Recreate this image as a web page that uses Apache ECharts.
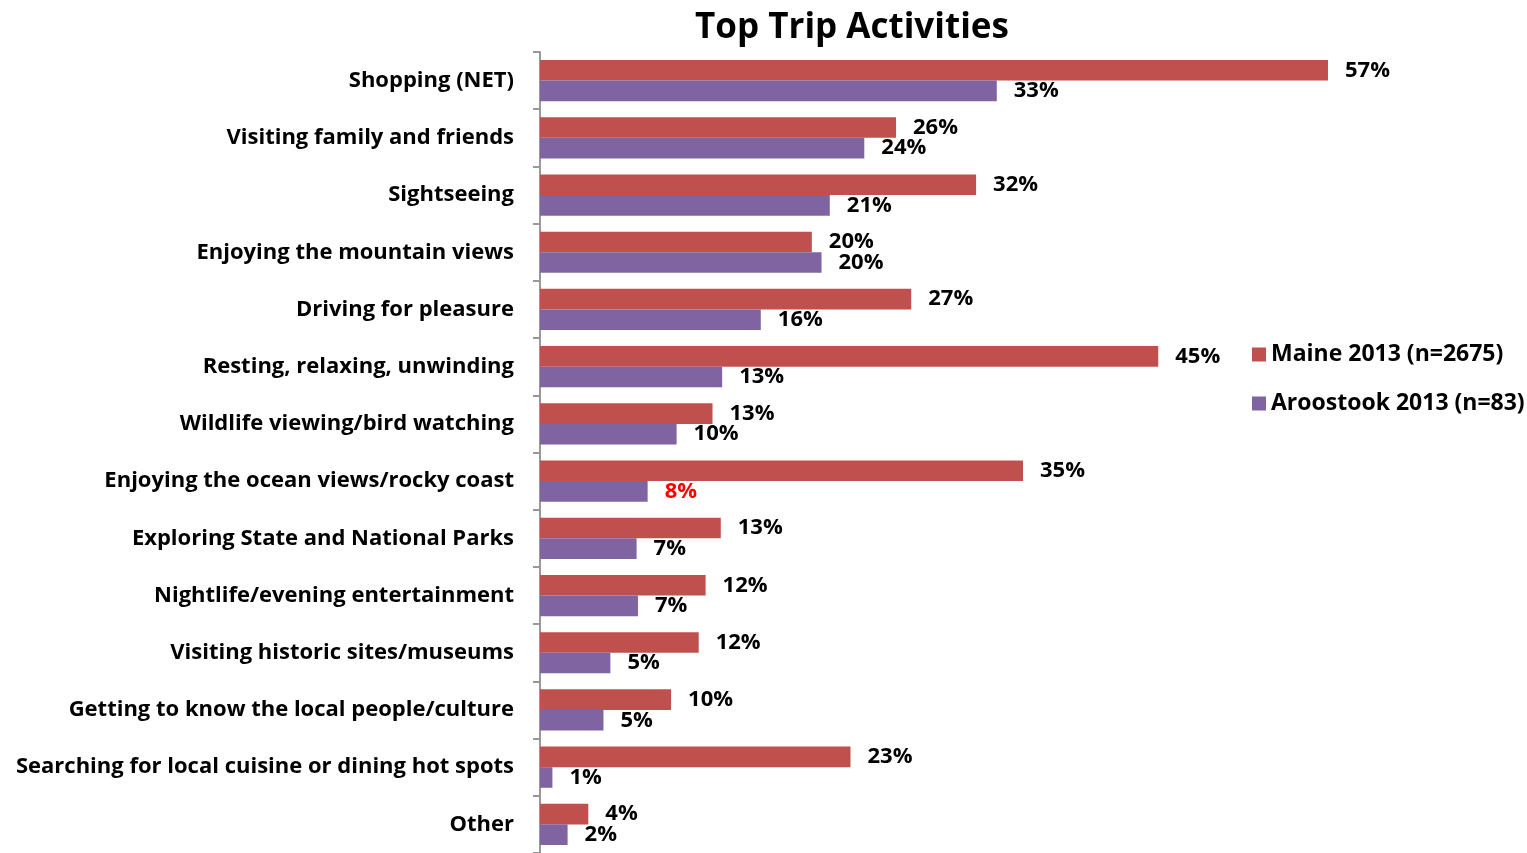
<!DOCTYPE html>
<html><head><meta charset="utf-8">
<script src="https://cdn.jsdelivr.net/npm/echarts@6/dist/echarts.min.js"></script>
<style>html,body{margin:0;padding:0;background:#fff}#c{width:1527px;height:853px}</style>
</head><body><div id="c"></div>
<script>
const categories = [
  "Shopping (NET)",
  "Visiting family and friends",
  "Sightseeing",
  "Enjoying the mountain views",
  "Driving for pleasure",
  "Resting, relaxing, unwinding",
  "Wildlife viewing/bird watching",
  "Enjoying the ocean views/rocky coast",
  "Exploring State and National Parks",
  "Nightlife/evening entertainment",
  "Visiting historic sites/museums",
  "Getting to know the local people/culture",
  "Searching for local cuisine or dining hot spots",
  "Other"
];
const maineValues = [57.1, 25.8, 31.6, 19.7, 26.9, 44.8, 12.5, 35.0, 13.1, 12.0, 11.5, 9.5, 22.5, 3.5];
const aroostookValues = [33.1, 23.5, 21.0, 20.4, 16.0, 13.2, 9.9, 7.8, 7.0, 7.1, 5.1, 4.6, 0.9, 2.0];
const seriesNames = ["Maine 2013 (n=2675)", "Aroostook 2013 (n=83)"];
const highlightIndex = 7; // Aroostook label shown in red

const FONT = "Open Sans";
const chart = echarts.init(document.getElementById('c'));
const lbl = {
  show: true, position: 'right', distance: 17,
  fontFamily: FONT, fontWeight: 'bold', fontSize: 22, color: '#000',
  formatter: p => Math.round(p.value) + '%'
};
chart.setOption({
  animation: false,
  title: {
    text: 'Top Trip Activities', left: 847, top: 6, textAlign: 'center',
    textStyle: { fontFamily: FONT, fontWeight: 'bold', fontSize: 35, color: '#000' }
  },
  legend: {
    orient: 'vertical', left: 1252, top: 343, itemGap: 26, padding: 0,
    itemWidth: 14, itemHeight: 14, icon: 'rect', itemStyle: { borderWidth: 0 },
    textStyle: { fontFamily: FONT, fontWeight: 'bold', fontSize: 23, color: '#000' },
    data: seriesNames
  },
  grid: { left: 540, right: 159, top: 52, bottom: -5, containLabel: false },
  xAxis: { type: 'value', min: 0, max: 60, show: false },
  yAxis: {
    type: 'category', inverse: true, data: categories,
    axisLine: { show: true, lineStyle: { color: '#999', width: 2 } },
    axisTick: { show: true, length: 7, lineStyle: { color: '#999', width: 2 } },
    axisLabel: { margin: 26, fontFamily: FONT, fontWeight: 'bold', fontSize: 22, color: '#000' }
  },
  series: [
    {
      name: seriesNames[0], type: 'bar', data: maineValues,
      barGap: '0%', barCategoryGap: '28%',
      itemStyle: { color: '#C0504D' }, label: lbl
    },
    {
      name: seriesNames[1], type: 'bar',
      data: aroostookValues.map((v, i) => i === highlightIndex
        ? { value: v, label: { color: '#FF0000' } } : v),
      barGap: '0%', barCategoryGap: '28%',
      itemStyle: { color: '#8064A2' }, label: lbl
    }
  ]
});
</script></body></html>
